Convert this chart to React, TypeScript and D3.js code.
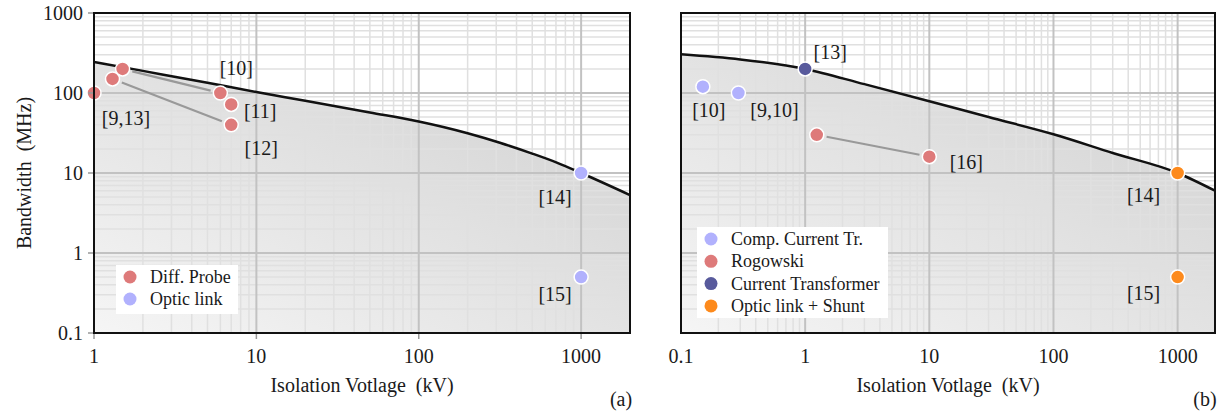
import React, { useEffect, useRef } from 'react';
import * as d3 from 'd3';

// axis ticks
const yTicks = [0.1, 1, 10, 100, 1000];
const yTickLabels = ['0.1', '1', '10', '100', '1000'];
const xTicksA = [1, 10, 100, 1000];
const xTickLabelsA = ['1', '10', '100', '1000'];
const xTicksB = [0.1, 1, 10, 100, 1000];
const xTickLabelsB = ['0.1', '1', '10', '100', '1000'];

// state-of-the-art limit curves (kV, MHz)
const limitAV = [1, 2, 5, 10, 20, 50, 100, 200, 316, 500, 708, 1000, 2000];
const limitABw = [245, 189, 134, 103, 80, 57, 44, 31.4, 23.9, 17.5, 13.5, 10, 5.3];
const limitBV = [0.1, 0.3, 1, 3, 10, 30, 100, 300, 1000, 2000];
const limitBBw = [305, 263, 200, 129, 79, 50, 30.5, 17.8, 10, 6];

// (a) voltage sensors
const diffProbeV = [1, 1.3, 1.5, 6, 7, 7];
const diffProbeBw = [100, 150, 200, 100, 72, 40];
const opticLinkV = [1000, 1000];
const opticLinkBw = [10, 0.5];

// (b) current sensors
const compCtV = [0.15, 0.29];
const compCtBw = [120, 100];
const rogowskiV = [1.24, 10];
const rogowskiBw = [30, 16];
const currentTrV = [1];
const currentTrBw = [200];
const opticShuntV = [1000, 1000];
const opticShuntBw = [10, 0.5];

const refsA = ['[9,13]', '[10]', '[11]', '[12]', '[14]', '[15]'];
const refsB = ['[10]', '[9,10]', '[13]', '[16]', '[14]', '[15]'];

const FONT = '"Liberation Serif", "Times New Roman", serif';
const INK = '#1a1a1a';
const TOP = 13;
const BOTTOM = 333;

type Series = { name: string; v: number[]; bw: number[]; color: string };

function minorValues(lo: number, hi: number) {
  const out: number[] = [];
  for (let d = Math.floor(Math.log10(lo)); d <= Math.ceil(Math.log10(hi)); d++) {
    for (let k = 1; k <= 9; k++) {
      const v = k * Math.pow(10, d);
      if (v > lo * 1.0001 && v < hi * 0.9999) out.push(v);
    }
  }
  return out;
}

function App() {
  const ref = useRef<SVGSVGElement>(null);

  useEffect(() => {
    const svg = d3.select(ref.current);
    svg.selectAll('*').remove();

    const y = d3.scaleLog().domain([0.1, 1000]).range([BOTTOM, TOP]);

    const defs = svg.append('defs');
    const grad = defs.append('linearGradient').attr('id', 'shade')
      .attr('x1', 0).attr('y1', 1).attr('x2', 1).attr('y2', 0);
    grad.append('stop').attr('offset', 0).attr('stop-color', '#f5f5f5');
    grad.append('stop').attr('offset', 1).attr('stop-color', '#d0d0d0');

    function panel(o: {
      id: string;
      x0: number; x1: number;
      domain: [number, number];
      ticks: number[]; tickLabels: string[];
      limitV: number[]; limitBw: number[];
      series: Series[];
      links: [number, number, number, number][];
      refs: string[];
      refAnchors: [number, number, number, number][]; // series, index, dx, dy
      legend: { x: number; y: number; w: number; h: number; rowH: number };
      showY: boolean;
      letter: string; letterX: number;
    }) {
      const x = d3.scaleLog().domain(o.domain).range([o.x0, o.x1]);
      const g = svg.append('g');
      defs.append('clipPath').attr('id', 'clip' + o.id)
        .append('rect').attr('x', o.x0).attr('y', TOP)
        .attr('width', o.x1 - o.x0).attr('height', BOTTOM - TOP);
      const inner = g.append('g').attr('clip-path', `url(#clip${o.id})`);

      inner.append('rect').attr('x', o.x0).attr('y', TOP)
        .attr('width', o.x1 - o.x0).attr('height', BOTTOM - TOP).attr('fill', '#fff');

      const pts = o.limitV.map((v, i) => [v, o.limitBw[i]] as [number, number]);
      const area = d3.area<[number, number]>()
        .x(d => x(d[0])).y0(BOTTOM).y1(d => y(d[1]))
        .curve(d3.curveMonotoneX);
      inner.append('path').attr('d', area(pts)).attr('fill', 'url(#shade)');

      // grid
      const minX = minorValues(o.domain[0], o.domain[1]).filter(v => !o.ticks.includes(v));
      const minY = minorValues(0.1, 1000).filter(v => !yTicks.includes(v));
      inner.selectAll('.mx').data(minX).enter().append('line')
        .attr('x1', d => x(d)).attr('x2', d => x(d)).attr('y1', TOP).attr('y2', BOTTOM)
        .attr('stroke', '#e0e0e0').attr('stroke-width', 1.5);
      inner.selectAll('.my').data(minY).enter().append('line')
        .attr('y1', d => y(d)).attr('y2', d => y(d)).attr('x1', o.x0).attr('x2', o.x1)
        .attr('stroke', '#e0e0e0').attr('stroke-width', 1.5);
      inner.selectAll('.Mx').data(o.ticks).enter().append('line')
        .attr('x1', d => x(d)).attr('x2', d => x(d)).attr('y1', TOP).attr('y2', BOTTOM)
        .attr('stroke', '#c2c2c2').attr('stroke-width', 2);
      inner.selectAll('.My').data(yTicks).enter().append('line')
        .attr('y1', d => y(d)).attr('y2', d => y(d)).attr('x1', o.x0).attr('x2', o.x1)
        .attr('stroke', '#c2c2c2').attr('stroke-width', 2);

      // limit curve
      const line = d3.line<[number, number]>().x(d => x(d[0])).y(d => y(d[1])).curve(d3.curveMonotoneX);
      inner.append('path').attr('d', line(pts)).attr('fill', 'none')
        .attr('stroke', '#111').attr('stroke-width', 2.5);

      // connectors
      o.links.forEach(([s1, i1, s2, i2]) => {
        const a = o.series[s1], b = o.series[s2];
        const ax = x(a.v[i1]), ay = y(a.bw[i1]);
        const bx = x(b.v[i2]), by = y(b.bw[i2]);
        const len = Math.hypot(bx - ax, by - ay);
        const ux = (bx - ax) / len, uy = (by - ay) / len;
        const cut = 10;
        g.append('line')
          .attr('x1', ax + ux * cut).attr('y1', ay + uy * cut)
          .attr('x2', bx - ux * cut).attr('y2', by - uy * cut)
          .attr('stroke', '#999').attr('stroke-width', 2.2);
      });

      // points
      o.series.forEach(s => {
        g.selectAll(null).data(s.v).enter().append('circle')
          .attr('cx', d => x(d)).attr('cy', (_, i) => y(s.bw[i]))
          .attr('r', 7).attr('fill', s.color)
          .attr('stroke', '#fff').attr('stroke-width', 1.5);
      });

      // reference labels
      o.refs.forEach((t, k) => {
        const [si, pi, dx, dy] = o.refAnchors[k];
        const s = o.series[si];
        g.append('text')
          .attr('x', x(s.v[pi]) + dx).attr('y', y(s.bw[pi]) + dy)
          .attr('text-anchor', 'middle').attr('dominant-baseline', 'central')
          .attr('font-family', FONT).attr('font-size', 20).attr('fill', INK)
          .text(t);
      });

      // legend
      const L = o.legend;
      g.append('rect').attr('x', L.x).attr('y', L.y).attr('width', L.w).attr('height', L.h).attr('fill', '#fff');
      o.series.forEach((s, i) => {
        const cy = L.y + 12 + i * L.rowH;
        g.append('circle').attr('cx', L.x + 14).attr('cy', cy).attr('r', 6.5).attr('fill', s.color);
        g.append('text').attr('x', L.x + 34).attr('y', cy)
          .attr('dominant-baseline', 'central')
          .attr('font-family', FONT).attr('font-size', 18).attr('fill', INK)
          .text(s.name);
      });

      // frame
      g.append('rect').attr('x', o.x0).attr('y', TOP)
        .attr('width', o.x1 - o.x0).attr('height', BOTTOM - TOP)
        .attr('fill', 'none').attr('stroke', '#111').attr('stroke-width', 2);

      // x ticks
      g.selectAll(null).data(o.ticks).enter().append('text')
        .attr('x', d => x(d)).attr('y', 363)
        .attr('text-anchor', 'middle')
        .attr('font-family', FONT).attr('font-size', 20).attr('fill', INK)
        .text((_, i) => o.tickLabels[i]);
      if (o.showY) {
        g.selectAll(null).data(o.ticks).enter().append('line')
          .attr('x1', d => x(d)).attr('x2', d => x(d)).attr('y1', BOTTOM + 1).attr('y2', BOTTOM + 6)
          .attr('stroke', '#999').attr('stroke-width', 1.5);
        g.selectAll(null).data(yTicks).enter().append('line')
          .attr('y1', d => y(d)).attr('y2', d => y(d)).attr('x1', o.x0 - 6).attr('x2', o.x0 - 1)
          .attr('stroke', '#999').attr('stroke-width', 1.5);
        g.selectAll(null).data(yTicks).enter().append('text')
          .attr('x', o.x0 - 11).attr('y', d => y(d))
          .attr('text-anchor', 'end').attr('dominant-baseline', 'central')
          .attr('font-family', FONT).attr('font-size', 20).attr('fill', INK)
          .text((_, i) => yTickLabels[i]);
        g.append('text')
          .attr('transform', `translate(24,${(TOP + BOTTOM) / 2}) rotate(-90)`)
          .attr('text-anchor', 'middle').attr('dominant-baseline', 'central')
          .attr('font-family', FONT).attr('font-size', 20).attr('fill', INK)
          .attr('xml:space', 'preserve')
          .text('Bandwidth  (MHz)');
      }
      g.append('text')
        .attr('x', (o.x0 + o.x1) / 2).attr('y', 392)
        .attr('text-anchor', 'middle')
        .attr('font-family', FONT).attr('font-size', 20).attr('fill', INK)
        .attr('xml:space', 'preserve')
        .text('Isolation Votlage  (kV)');
      g.append('text')
        .attr('x', o.letterX).attr('y', 406)
        .attr('text-anchor', 'middle')
        .attr('font-family', FONT).attr('font-size', 20).attr('fill', INK)
        .text(o.letter);
    }

    panel({
      id: 'a', x0: 94, x1: 630, domain: [1, 2000],
      ticks: xTicksA, tickLabels: xTickLabelsA,
      limitV: limitAV, limitBw: limitABw,
      series: [
        { name: 'Diff. Probe', v: diffProbeV, bw: diffProbeBw, color: '#de7a7a' },
        { name: 'Optic link', v: opticLinkV, bw: opticLinkBw, color: '#b1b1fd' },
      ],
      links: [[0, 2, 0, 3], [0, 1, 0, 5]],
      refs: refsA,
      refAnchors: [[0, 0, 32, 25], [0, 3, 16, -25], [0, 4, 29, 7], [0, 5, 30, 23], [1, 0, -26, 24], [1, 1, -26, 17]],
      legend: { x: 116, y: 265, w: 122, h: 49, rowH: 22 },
      showY: true,
      letter: '(a)', letterX: 621,
    });

    panel({
      id: 'b', x0: 681, x1: 1215, domain: [0.1, 2000],
      ticks: xTicksB, tickLabels: xTickLabelsB,
      limitV: limitBV, limitBw: limitBBw,
      series: [
        { name: 'Comp. Current Tr.', v: compCtV, bw: compCtBw, color: '#b1b1fd' },
        { name: 'Rogowski', v: rogowskiV, bw: rogowskiBw, color: '#de7a7a' },
        { name: 'Current Transformer', v: currentTrV, bw: currentTrBw, color: '#585a9c' },
        { name: 'Optic link + Shunt', v: opticShuntV, bw: opticShuntBw, color: '#fd8a1c' },
      ],
      links: [[1, 0, 1, 1]],
      refs: refsB,
      refAnchors: [[0, 0, 6, 23], [0, 1, 36, 17], [2, 0, 25, -17], [1, 1, 37, 5], [3, 0, -34, 22], [3, 1, -34, 16]],
      legend: { x: 697, y: 227, w: 191, h: 91, rowH: 22.3 },
      showY: false,
      letter: '(b)', letterX: 1205,
    });
  }, []);

  return (
    <svg ref={ref} width={1225} height={414}
      style={{ position: 'absolute', left: 0, top: 0, background: '#fff' }} />
  );
}

export default App;
